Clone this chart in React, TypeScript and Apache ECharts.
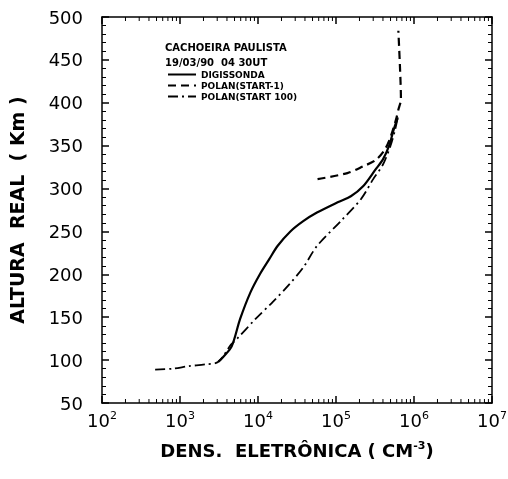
import React, { useEffect, useRef } from "react";
import * as echarts from "echarts";

// ---- data ----
const digissondaDensity = [3.1e3, 3.6e3, 4.6e3, 5.9e3, 8.0e3, 1.07e4, 1.4e4, 1.78e4, 2.6e4, 3.8e4, 5.7e4, 1.05e5, 1.55e5, 2.24e5, 3.2e5, 4.0e5, 4.8e5, 5.5e5, 6.2e5];
const digissondaAltitude = [98, 104, 116, 148, 179, 201, 218, 233, 250, 262, 272, 284, 291, 303, 322, 334, 350, 369, 383];

const polanStartM1Density = [5.8e4, 1.4e5, 2.24e5, 3.2e5, 4.2e5, 5.0e5, 5.9e5, 6.3e5, 6.8e5, 6.6e5, 6.3e5];
const polanStartM1Altitude = [311, 318, 326, 333, 345, 360, 381, 392, 404, 443, 484];

const polanStart100Density = [4.8e2, 8.0e2, 1.3e3, 2.1e3, 3.1e3, 4.5e3, 5.4e3, 9.3e3, 1.55e4, 2.5e4, 3.8e4, 5.7e4, 1.15e5, 2.1e5, 3.0e5, 4.0e5, 5.0e5, 5.7e5, 6.2e5];
const polanStart100Altitude = [89, 90, 93, 95, 98, 118, 125, 148, 168, 188, 208, 233, 262, 288, 311, 328, 350, 368, 383];

const seriesNames = ["DIGISSONDA", "POLAN(START-1)", "POLAN(START 100)"];
const titleLines = ["CACHOEIRA PAULISTA", "19/03/90  04 30UT"];

// ---- axis ticks ----
const xMin = 1e2;
const xMax = 1e7;
const xDecades = [1e2, 1e3, 1e4, 1e5, 1e6, 1e7];
const xMinorMultipliers = [2, 3, 4, 5, 6, 7, 8, 9];
const xMinorTicks = xDecades.slice(0, -1).flatMap((d) => xMinorMultipliers.map((m) => m * d));

const yMin = 50;
const yMax = 500;
const yInterval = 50;

const pairs = (xs: number[], ys: number[]) => xs.map((x, i) => [x, ys[i]]);

const FONT = "DejaVu Sans";

function xTickSeries(values: number[], len: number, width: number) {
  return {
    type: "custom",
    silent: true,
    clip: false,
    z: 5,
    xAxisIndex: 0,
    yAxisIndex: 0,
    data: values.map((v) => [v, yMin]),
    renderItem: (_p: any, api: any) => {
      const v = api.value(0);
      const b = api.coord([v, yMin]);
      const t = api.coord([v, yMax]);
      const style = { stroke: "#000", lineWidth: width };
      return {
        type: "group",
        children: [
          { type: "line", shape: { x1: b[0], y1: b[1], x2: b[0], y2: b[1] - len }, style },
          { type: "line", shape: { x1: t[0], y1: t[1], x2: t[0], y2: t[1] + len }, style },
        ],
      };
    },
  };
}

const majorTick = () => ({ show: true, inside: true, length: 7, lineStyle: { color: "#000", width: 1.5 } });
const yMinorTick = () => ({ show: true, splitNumber: 5, length: 4, lineStyle: { color: "#000", width: 1 } });

export default function App() {
  const ref = useRef<HTMLDivElement>(null);

  useEffect(() => {
    if (!ref.current) return;
    const chart = echarts.init(ref.current, undefined, { renderer: "svg" });

    const option: any = {
      animation: false,
      title: {
        text: titleLines[0],
        subtext: titleLines[1],
        left: 165,
        top: 42,
        padding: 0,
        itemGap: 5,
        textStyle: { fontFamily: FONT, fontSize: 10, fontWeight: "bold", color: "#000" },
        subtextStyle: { fontFamily: FONT, fontSize: 10, fontWeight: "bold", color: "#000" },
      },
      legend: {
        data: seriesNames,
        orient: "vertical",
        left: 167,
        top: 70,
        padding: 0,
        itemWidth: 28,
        itemHeight: 8,
        itemGap: 2,
        itemStyle: { opacity: 0 },
        textStyle: { fontFamily: FONT, fontSize: 9, fontWeight: "bold", color: "#000" },
      },
      grid: { left: 102, right: 16, top: 17, bottom: 76, outerBoundsMode: "none" },
      xAxis: [
        {
          type: "log",
          min: xMin,
          max: xMax,
          logBase: 10,
          position: "bottom",
          name: "DENS.  ELETRÔNICA ( CM{sup|-3})",
          nameLocation: "middle",
          nameGap: 37,
          nameTextStyle: {
            fontFamily: FONT,
            fontSize: 18,
            fontWeight: "bold",
            color: "#000",
            rich: { sup: { fontFamily: FONT, fontSize: 11, fontWeight: "bold", color: "#000", padding: [0, 0, 10, 0] } },
          },
          splitLine: { show: false },
          axisLine: { show: true, lineStyle: { color: "#000", width: 1.5 } },
          axisTick: majorTick(),
          axisLabel: {
            show: true,
            margin: 7,
            formatter: (v: number) => `{b|10}{s|${Math.round(Math.log10(v))}}`,
            rich: {
              b: { fontFamily: FONT, fontSize: 18, color: "#000" },
              s: { fontFamily: FONT, fontSize: 11, color: "#000", padding: [0, 0, 10, 0] },
            },
          },
        },
        {
          type: "log",
          min: xMin,
          max: xMax,
          logBase: 10,
          position: "top",
          splitLine: { show: false },
          axisLine: { show: true, lineStyle: { color: "#000", width: 1.5 } },
          axisLabel: { show: false },
          axisTick: majorTick(),
        },
      ],
      yAxis: [
        {
          type: "value",
          position: "left",
          min: yMin,
          max: yMax,
          interval: yInterval,
          name: "ALTURA  REAL  ( Km )",
          nameLocation: "middle",
          nameGap: 76,
          nameTextStyle: { fontFamily: FONT, fontSize: 19, fontWeight: "bold", color: "#000" },
          splitLine: { show: false },
          axisLine: { show: true, lineStyle: { color: "#000", width: 1.5 } },
          axisTick: majorTick(),
          minorTick: yMinorTick(),
          axisLabel: { margin: 19, fontFamily: FONT, fontSize: 18, color: "#000" },
        },
        {
          type: "value",
          position: "right",
          min: yMin,
          max: yMax,
          interval: yInterval,
          splitLine: { show: false },
          axisLine: { show: true, lineStyle: { color: "#000", width: 1.5 } },
          axisTick: majorTick(),
          minorTick: yMinorTick(),
          axisLabel: { show: false },
        },
      ],
      series: [
        {
          name: seriesNames[0],
          type: "line",
          xAxisIndex: 0,
          yAxisIndex: 0,
          showSymbol: false,
          symbol: "none",
          smooth: 0.3,
          data: pairs(digissondaDensity, digissondaAltitude),
          lineStyle: { color: "#000", width: 2.2, type: "solid" },
          itemStyle: { color: "#000" },
        },
        {
          name: seriesNames[1],
          type: "line",
          xAxisIndex: 0,
          yAxisIndex: 0,
          showSymbol: false,
          symbol: "none",
          smooth: 0.3,
          data: pairs(polanStartM1Density, polanStartM1Altitude),
          lineStyle: { color: "#000", width: 2.2, type: [8, 5] },
          itemStyle: { color: "#000" },
        },
        {
          name: seriesNames[2],
          type: "line",
          xAxisIndex: 0,
          yAxisIndex: 0,
          showSymbol: false,
          symbol: "none",
          smooth: 0.3,
          data: pairs(polanStart100Density, polanStart100Altitude),
          lineStyle: { color: "#000", width: 1.8, type: [10, 4, 2, 4] },
          itemStyle: { color: "#000" },
        },
        xTickSeries(xMinorTicks, 4, 1),
      ],
    };

    chart.setOption(option);
    return () => chart.dispose();
  }, []);

  return <div ref={ref} style={{ position: "fixed", left: 0, top: 0, width: 508, height: 479 }} />;
}
